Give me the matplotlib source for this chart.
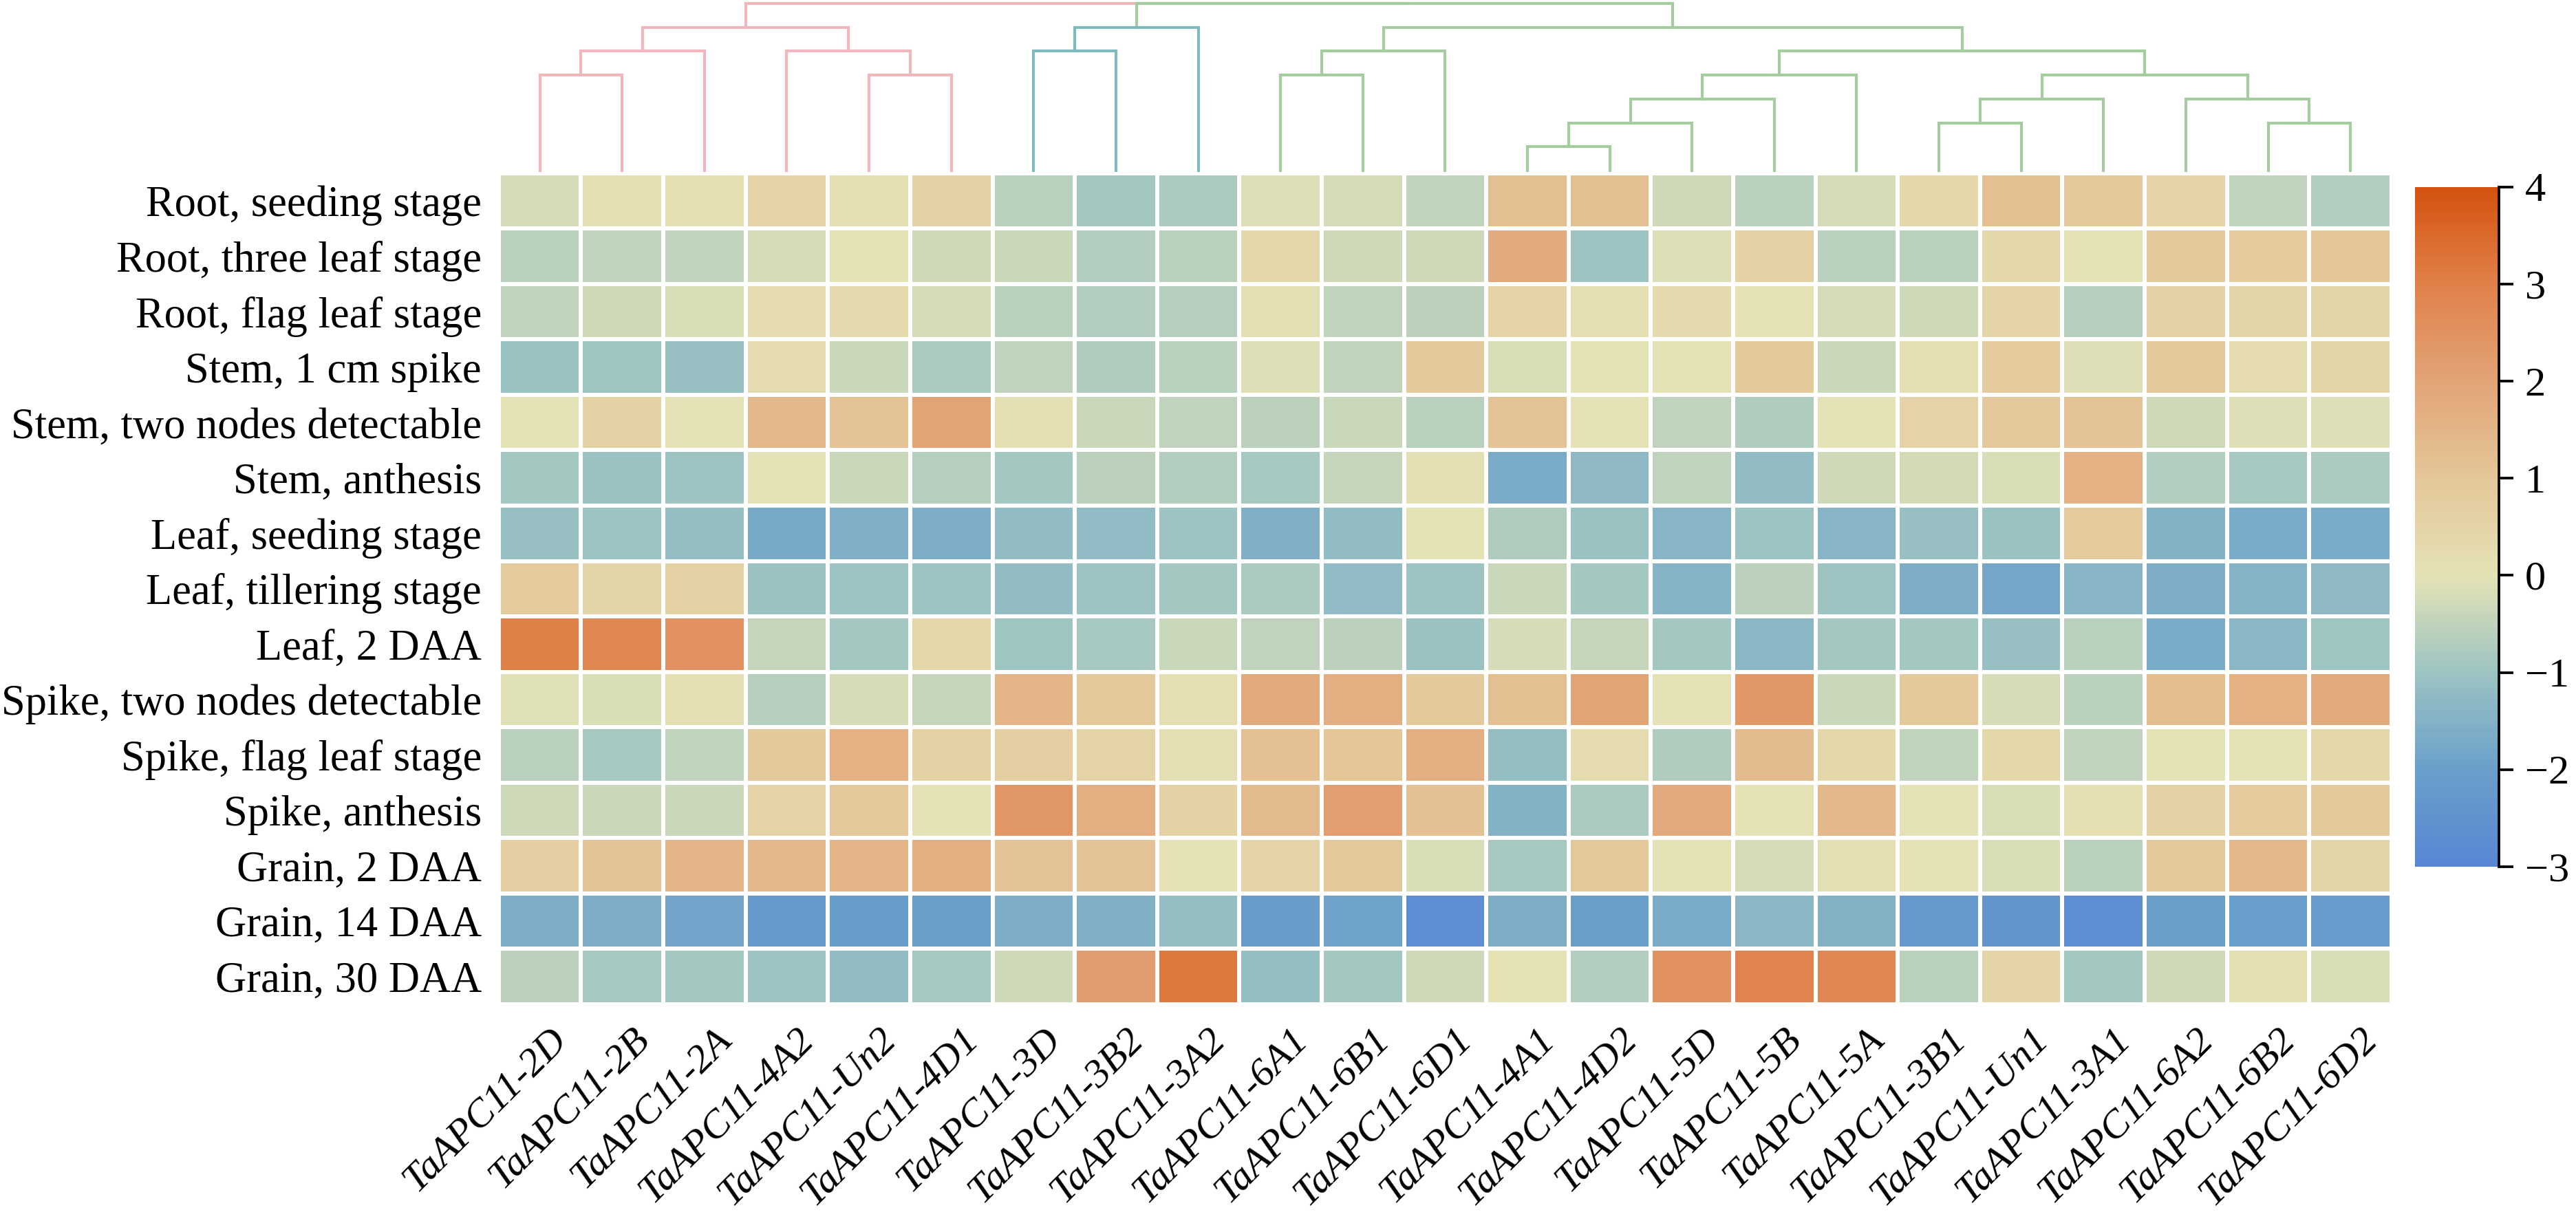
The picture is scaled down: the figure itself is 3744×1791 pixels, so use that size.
import numpy as np
import matplotlib.pyplot as plt
from matplotlib.colors import LinearSegmentedColormap
from matplotlib import transforms

plt.rcParams['font.family'] = ['Liberation Serif', 'DejaVu Serif']

genes = ["TaAPC11-2D", "TaAPC11-2B", "TaAPC11-2A", "TaAPC11-4A2", "TaAPC11-Un2",
         "TaAPC11-4D1", "TaAPC11-3D", "TaAPC11-3B2", "TaAPC11-3A2", "TaAPC11-6A1",
         "TaAPC11-6B1", "TaAPC11-6D1", "TaAPC11-4A1", "TaAPC11-4D2", "TaAPC11-5D",
         "TaAPC11-5B", "TaAPC11-5A", "TaAPC11-3B1", "TaAPC11-Un1", "TaAPC11-3A1",
         "TaAPC11-6A2", "TaAPC11-6B2", "TaAPC11-6D2"]

tissues = ["Root, seeding stage", "Root, three leaf stage", "Root, flag leaf stage",
           "Stem, 1 cm spike", "Stem, two nodes detectable", "Stem, anthesis",
           "Leaf, seeding stage", "Leaf, tillering stage", "Leaf, 2 DAA",
           "Spike, two nodes detectable", "Spike, flag leaf stage", "Spike, anthesis",
           "Grain, 2 DAA", "Grain, 14 DAA", "Grain, 30 DAA"]

# z-scores, one row per tissue
root_seed   = [-0.2, 0.1, 0.1, 0.5, 0.1, 0.6, -0.6, -0.9, -0.8, -0.1, -0.2, -0.5, 1.2, 1.2, -0.3, -0.6, -0.2, 0.4, 1.2, 0.9, 0.5, -0.5, -0.7]
root_three  = [-0.6, -0.5, -0.5, -0.2, 0.05, -0.3, -0.4, -0.7, -0.6, 0.4, -0.3, -0.3, 1.8, -1.0, -0.1, 0.6, -0.6, -0.6, 0.4, 0.05, 0.9, 0.8, 1.0]
root_flag   = [-0.5, -0.3, -0.15, 0.25, 0.3, -0.2, -0.6, -0.7, -0.65, 0.1, -0.5, -0.55, 0.5, 0.15, 0.3, 0.05, -0.2, -0.3, 0.5, -0.65, 0.6, 0.45, 0.45]
stem_1cm    = [-1.05, -0.95, -1.1, 0.2, -0.4, -0.8, -0.5, -0.75, -0.6, -0.1, -0.5, 0.9, -0.15, 0.0, 0.05, 0.9, -0.4, 0.15, 0.8, -0.1, 0.95, 0.2, 0.45]
stem_nodes  = [0.05, 0.6, 0.05, 1.4, 1.05, 2.0, 0.1, -0.4, -0.5, -0.55, -0.4, -0.6, 1.05, 0.05, -0.5, -0.75, 0.05, 0.55, 0.95, 1.05, -0.3, -0.1, -0.1]
stem_anth   = [-0.9, -1.05, -1.0, 0.05, -0.4, -0.65, -0.9, -0.55, -0.7, -0.85, -0.45, 0.1, -1.7, -1.3, -0.5, -1.2, -0.3, -0.25, -0.15, 1.6, -0.7, -0.85, -0.8]
leaf_seed   = [-1.1, -1.0, -1.15, -1.75, -1.55, -1.6, -1.2, -1.25, -1.0, -1.55, -1.2, 0.0, -0.75, -1.05, -1.4, -1.0, -1.4, -1.1, -1.05, 0.85, -1.5, -1.7, -1.7]
leaf_till   = [0.8, 0.45, 0.6, -1.05, -1.0, -1.0, -1.2, -1.0, -0.9, -0.8, -1.25, -1.0, -0.4, -0.9, -1.45, -0.55, -1.0, -1.6, -1.8, -1.4, -1.6, -1.45, -1.3]
leaf_2daa   = [3.0, 2.8, 2.5, -0.45, -0.9, 0.35, -0.95, -0.85, -0.4, -0.5, -0.55, -1.05, -0.2, -0.45, -0.9, -1.35, -0.9, -0.9, -1.1, -0.6, -1.7, -1.35, -0.95]
spike_nodes = [-0.05, -0.15, 0.1, -0.65, -0.2, -0.45, 1.5, 0.95, 0.1, 1.8, 1.65, 0.9, 1.2, 2.0, 0.05, 2.4, -0.4, 0.9, -0.2, -0.6, 1.25, 1.6, 1.8]
spike_flag  = [-0.6, -0.85, -0.5, 0.9, 1.6, 0.6, 0.75, 0.55, 0.1, 1.15, 1.0, 1.7, -1.15, 0.25, -0.75, 1.3, 0.35, -0.5, 0.4, -0.5, 0.05, 0.05, 0.4]
spike_anth  = [-0.3, -0.4, -0.4, 0.55, 0.95, 0.05, 2.4, 1.65, 0.6, 1.35, 2.15, 1.15, -1.5, -0.8, 1.85, 0.05, 1.4, 0.05, -0.15, 0.15, 0.6, 0.8, 0.9]
grain_2     = [0.75, 1.05, 1.5, 1.45, 1.5, 1.7, 1.1, 1.05, 0.05, 0.5, 0.95, -0.15, -0.85, 0.95, 0.05, -0.2, 0.1, 0.05, -0.15, -0.6, 0.95, 1.4, 0.45]
grain_14    = [-1.6, -1.65, -1.85, -2.2, -2.1, -2.0, -1.6, -1.55, -1.15, -2.1, -1.9, -2.7, -1.6, -2.0, -1.7, -1.35, -1.5, -2.2, -2.4, -2.7, -2.0, -2.05, -2.15]
grain_30    = [-0.55, -0.85, -0.9, -1.0, -1.2, -0.85, -0.3, 2.2, 3.2, -1.15, -0.9, -0.3, 0.05, -0.7, 2.55, 2.9, 2.85, -0.6, 0.5, -0.9, -0.3, 0.1, -0.15]

values = np.array([root_seed, root_three, root_flag, stem_1cm, stem_nodes, stem_anth,
                   leaf_seed, leaf_till, leaf_2daa, spike_nodes, spike_flag, spike_anth,
                   grain_2, grain_14, grain_30])

# colour scale
cmap_stops = [-3, -2, -1, 0, 1, 2, 3, 4]
cmap_colors = ["#5986d3", "#6a9fca", "#9dc4c2", "#e4e2b5", "#e4c699", "#e2a477", "#e0814a", "#d4520f"]
cbar_ticks = [-3, -2, -1, 0, 1, 2, 3, 4]

# column tree: (left, right, level, colour); merged nodes numbered from 23 upward
clust_colors = {"pink": "#f0b7bf", "teal": "#7fbabc", "green": "#a4cc9f"}
merges = [
    (0, 1, 4, "pink"), (23, 2, 5, "pink"), (4, 5, 4, "pink"), (3, 25, 5, "pink"),
    (24, 26, 6, "pink"),
    (6, 7, 5, "teal"), (28, 8, 6, "teal"),
    (9, 10, 4, "green"), (30, 11, 5, "green"),
    (12, 13, 1, "green"), (32, 14, 2, "green"), (33, 15, 3, "green"), (34, 16, 4, "green"),
    (17, 18, 2, "green"), (36, 19, 3, "green"), (21, 22, 2, "green"), (20, 38, 3, "green"),
    (37, 39, 4, "green"), (35, 40, 5, "green"), (31, 41, 6, "green"),
    (29, 42, 7, "green"), (27, 43, 7, "pink"),
]

nrow, ncol = values.shape
lo = cmap_stops[0]
hi = cmap_stops[-1]
cmap = LinearSegmentedColormap.from_list(
    "expr", [((s - lo) / (hi - lo), c) for s, c in zip(cmap_stops, cmap_colors)])

fig = plt.figure(figsize=(12.48, 5.97), dpi=300)

# heatmap
ax = fig.add_axes([0.1936, 0.1849, 0.7348, 0.6745])
mesh = ax.pcolormesh(values, cmap=cmap, vmin=lo, vmax=hi, edgecolors="white", linewidth=1.0)
ax.set_xlim(0, ncol)
ax.set_ylim(nrow, 0)
for s in ax.spines.values():
    s.set_visible(False)
ax.set_yticks(np.arange(nrow) + 0.5)
ax.set_yticklabels(tissues, fontsize=15)
ax.set_xticks(np.arange(ncol) + 0.5)
ax.set_xticklabels(genes, fontsize=14, style="italic", rotation=45,
                   ha="right", va="top", rotation_mode="anchor")
ax.tick_params(axis="both", length=0)
ax.tick_params(axis="y", pad=6)
ax.tick_params(axis="x", pad=6)
shift = transforms.ScaledTranslation(3 / 72, 0, fig.dpi_scale_trans)
for lab in ax.get_xticklabels():
    lab.set_transform(lab.get_transform() + shift)

# dendrogram
axd = fig.add_axes([0.1936, 0.8615, 0.7348, 0.1357])
axd.set_xlim(0, ncol)
axd.set_ylim(0, 7)
axd.axis("off")
pos = {i: (i + 0.5, 0.0) for i in range(ncol)}
for k, (l, r, h, c) in enumerate(merges):
    pos[ncol + k] = ((pos[l][0] + pos[r][0]) / 2, h)
for k in range(len(merges) - 1, -1, -1):
    l, r, h, c = merges[k]
    xl, yl = pos[l]
    xr, yr = pos[r]
    axd.plot([xl, xl, xr, xr], [yl, h, h, yr], color=clust_colors[c], lw=1.0,
             clip_on=False, solid_joinstyle="miter")

# colour bar
cax = fig.add_axes([0.9375, 0.2965, 0.0326, 0.5517])
cb = fig.colorbar(mesh, cax=cax, ticks=cbar_ticks)
cb.outline.set_visible(False)
cax.spines["right"].set_visible(True)
cax.spines["right"].set_linewidth(0.9)
cax.tick_params(length=5, width=0.9, labelsize=14.5, pad=4)

fig.savefig("out.png", dpi=300)
